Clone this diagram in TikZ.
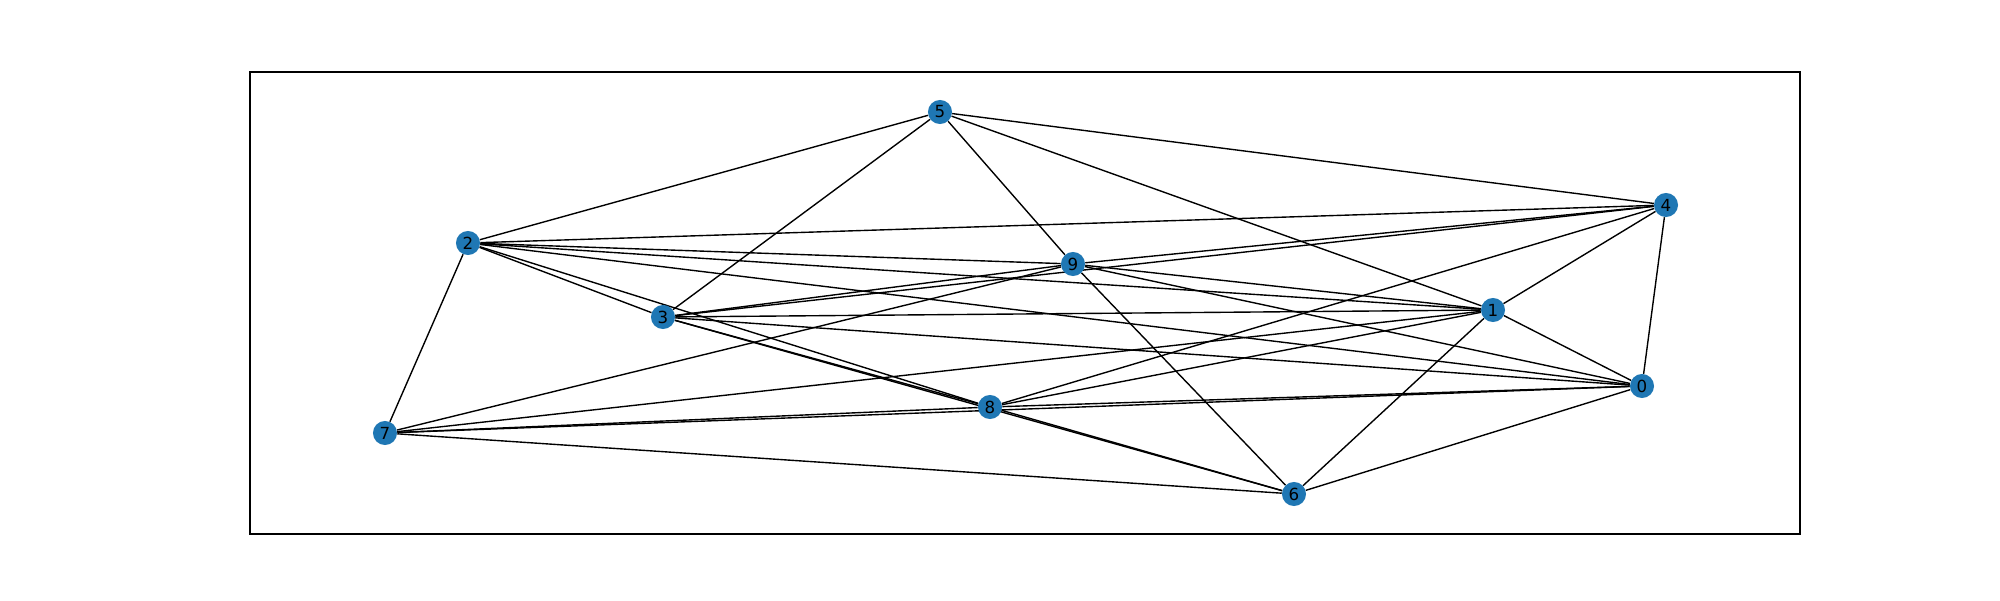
\documentclass[tikz,border=0pt]{standalone}
\usepackage{fontspec}
\setmainfont{DejaVu Sans}
\usepackage{tikz}
\usetikzlibrary{backgrounds}
\definecolor{nodeblue}{HTML}{1F77B4}
\tikzset{
  vertex/.style={circle, fill=nodeblue, draw=none, inner sep=0pt,
    minimum size=17.32pt, font=\fontsize{12}{14}\selectfont},
  link/.style={draw=black, line width=1pt},
}

\begin{document}
\begin{tikzpicture}[x=0.72pt, y=-0.72pt]

  \useasboundingbox (0,0) rectangle (2000,600);
  \draw[line width=0.8pt] (250,72) rectangle (1800,534);

  % Define nodes
  \node[vertex] (n0) at (1642,386) {0};
  \node[vertex] (n1) at (1493,310) {1};
  \node[vertex] (n2) at (468,243) {2};
  \node[vertex] (n3) at (663,317) {3};
  \node[vertex] (n4) at (1666,205) {4};
  \node[vertex] (n5) at (940,112) {5};
  \node[vertex] (n6) at (1294,494) {6};
  \node[vertex] (n7) at (385,433) {7};
  \node[vertex] (n8) at (990,407) {8};
  \node[vertex] (n9) at (1073,264) {9};

  % Connect nodes
  \begin{pgfonlayer}{background}
    \draw[link] (n0) -- (n1); \draw[link] (n0) -- (n2); \draw[link] (n0) -- (n3);
    \draw[link] (n0) -- (n4); \draw[link] (n0) -- (n6); \draw[link] (n0) -- (n7);
    \draw[link] (n0) -- (n8); \draw[link] (n0) -- (n9);

    \draw[link] (n1) -- (n2); \draw[link] (n1) -- (n3); \draw[link] (n1) -- (n4);
    \draw[link] (n1) -- (n5); \draw[link] (n1) -- (n6); \draw[link] (n1) -- (n7);
    \draw[link] (n1) -- (n8); \draw[link] (n1) -- (n9);

    \draw[link] (n2) -- (n3); \draw[link] (n2) -- (n4); \draw[link] (n2) -- (n5);
    \draw[link] (n2) -- (n7); \draw[link] (n2) -- (n8); \draw[link] (n2) -- (n9);

    \draw[link] (n3) -- (n4); \draw[link] (n3) -- (n5); \draw[link] (n3) -- (n6);
    \draw[link] (n3) -- (n8); \draw[link] (n3) -- (n9);

    \draw[link] (n4) -- (n5); \draw[link] (n4) -- (n8); \draw[link] (n4) -- (n9);

    \draw[link] (n5) -- (n9);

    \draw[link] (n6) -- (n7); \draw[link] (n6) -- (n8); \draw[link] (n6) -- (n9);

    \draw[link] (n7) -- (n8); \draw[link] (n7) -- (n9);
  \end{pgfonlayer}

\end{tikzpicture}
\end{document}
